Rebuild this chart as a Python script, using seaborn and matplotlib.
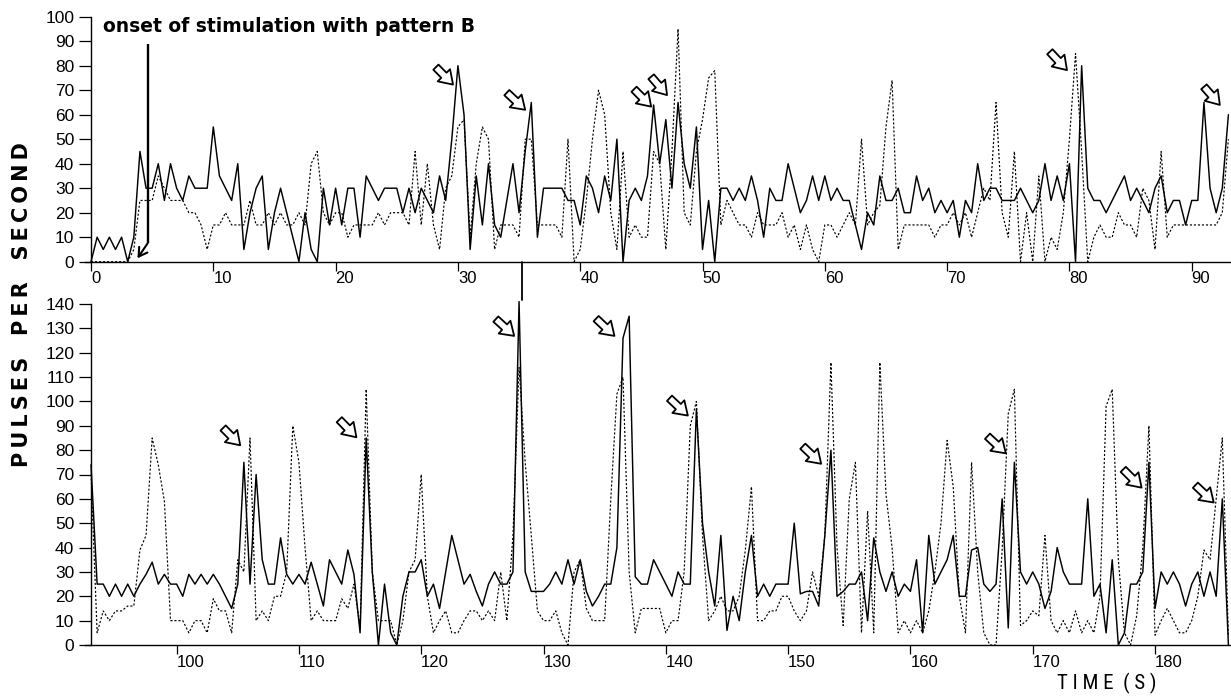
import numpy as np
import pandas as pd
import matplotlib
matplotlib.use("Agg")
import matplotlib.pyplot as plt
import seaborn as sns
from matplotlib import font_manager as fm

# ---------------------------------------------------------------- data
top_start = 0.0       # s, first sample of upper trace
bottom_start = 93.0   # s, first sample of lower trace
step = 0.5            # s between samples

# upper panel (0 - 93 s), pulses per second
top_solid = [
    0, 10, 5, 10, 5, 10, 0, 10, 45, 30,
    30, 40, 25, 40, 30, 25, 35, 30, 30, 30,
    55, 35, 30, 25, 40, 5, 20, 30, 35, 5,
    20, 30, 20, 10, 0, 20, 5, 0, 30, 15,
    30, 15, 30, 30, 10, 35, 30, 25, 30, 30,
    30, 20, 30, 20, 30, 25, 20, 35, 25, 50,
    80, 60, 5, 35, 15, 40, 15, 10, 25, 40,
    20, 45, 65, 10, 30, 30, 30, 30, 25, 25,
    15, 35, 30, 20, 35, 25, 50, 0, 25, 30,
    25, 35, 64, 40, 58, 30, 65, 40, 30, 55,
    5, 25, 0, 30, 30, 25, 30, 25, 35, 25,
    10, 30, 25, 25, 40, 30, 20, 25, 35, 25,
    35, 25, 30, 25, 25, 15, 5, 20, 15, 35,
    25, 25, 30, 20, 20, 35, 25, 30, 20, 25,
    20, 25, 10, 25, 20, 40, 25, 30, 30, 25,
    25, 25, 30, 25, 20, 25, 40, 25, 35, 25,
    40, 0, 80, 30, 25, 25, 20, 25, 30, 35,
    25, 30, 25, 20, 30, 35, 20, 25, 25, 15,
    25, 25, 65, 30, 20, 30, 60]
top_dotted = [
    0, 0, 0, 0, 0, 0, 0, 5, 25, 25,
    25, 35, 30, 25, 25, 25, 20, 20, 15, 5,
    15, 15, 20, 15, 15, 15, 25, 15, 15, 20,
    15, 20, 15, 15, 20, 15, 40, 45, 20, 15,
    20, 20, 10, 15, 15, 15, 15, 20, 15, 20,
    20, 20, 15, 45, 15, 40, 15, 5, 30, 35,
    55, 58, 10, 40, 55, 50, 5, 15, 15, 15,
    10, 50, 50, 15, 15, 15, 15, 10, 50, 0,
    5, 25, 50, 70, 60, 20, 5, 45, 10, 15,
    10, 10, 45, 40, 5, 45, 95, 20, 15, 45,
    58, 75, 78, 15, 25, 20, 15, 15, 10, 20,
    15, 15, 15, 20, 10, 15, 5, 15, 5, 0,
    15, 15, 10, 15, 20, 15, 50, 15, 20, 23,
    55, 74, 5, 15, 15, 15, 15, 15, 10, 15,
    15, 20, 15, 20, 10, 20, 30, 25, 65, 20,
    10, 45, 0, 20, 0, 35, 0, 10, 5, 20,
    50, 85, 45, 0, 10, 15, 10, 10, 20, 15,
    15, 10, 30, 25, 5, 45, 10, 15, 15, 15,
    15, 15, 15, 15, 15, 20, 50]

# lower panel (93 - 186 s)
bottom_solid = [
    74, 25, 25, 20, 25, 20, 25, 20, 25, 29,
    34, 25, 29, 25, 25, 20, 29, 25, 29, 25,
    29, 25, 20, 15, 25, 75, 25, 70, 35, 25,
    25, 44, 29, 25, 29, 25, 34, 25, 16, 35,
    30, 25, 39, 29, 5, 85, 30, 0, 25, 5,
    0, 20, 30, 30, 35, 20, 25, 15, 30, 45,
    35, 25, 29, 22, 16, 25, 30, 25, 25, 30,
    141, 30, 22, 22, 22, 25, 30, 25, 35, 25,
    35, 22, 16, 20, 25, 25, 40, 126, 135, 28,
    25, 25, 35, 30, 25, 20, 30, 25, 25, 97,
    50, 30, 16, 45, 6, 20, 10, 30, 45, 20,
    25, 20, 25, 25, 25, 50, 21, 22, 22, 16,
    45, 80, 20, 22, 25, 25, 30, 10, 44, 30,
    22, 30, 20, 25, 22, 35, 5, 45, 25, 30,
    35, 45, 20, 20, 39, 40, 25, 22, 25, 60,
    7, 75, 30, 25, 30, 25, 15, 22, 40, 30,
    25, 25, 25, 60, 20, 25, 5, 35, 0, 5,
    25, 25, 30, 75, 15, 30, 25, 30, 25, 16,
    25, 30, 20, 30, 20, 60, 0]
bottom_dotted = [
    70, 5, 14, 10, 14, 14, 16, 16, 39, 45,
    85, 74, 59, 10, 10, 10, 5, 10, 10, 5,
    19, 14, 14, 5, 35, 30, 85, 10, 14, 10,
    20, 20, 30, 90, 75, 40, 10, 14, 10, 10,
    10, 19, 15, 25, 7, 105, 30, 10, 10, 10,
    0, 10, 30, 35, 70, 20, 5, 10, 14, 5,
    5, 10, 14, 14, 10, 14, 10, 30, 10, 45,
    114, 75, 45, 14, 10, 10, 14, 5, 0, 30,
    35, 15, 10, 10, 10, 60, 103, 110, 30, 5,
    15, 15, 15, 15, 5, 10, 10, 30, 90, 100,
    45, 10, 14, 20, 14, 14, 20, 39, 65, 10,
    10, 14, 14, 20, 20, 14, 10, 14, 30, 20,
    45, 116, 40, 8, 60, 75, 5, 55, 5, 116,
    62, 40, 5, 10, 5, 10, 5, 14, 30, 50,
    84, 65, 20, 5, 75, 30, 5, 0, 0, 39,
    95, 105, 8, 10, 14, 12, 45, 10, 5, 10,
    5, 14, 5, 10, 5, 20, 98, 105, 35, 5,
    0, 12, 40, 90, 4, 10, 15, 10, 5, 5,
    10, 20, 39, 35, 60, 85, 4]

top_xticks = [0, 10, 20, 30, 40, 50, 60, 70, 80, 90]
bottom_xticks = [100, 110, 120, 130, 140, 150, 160, 170, 180]
top_yticks = [0, 10, 20, 30, 40, 50, 60, 70, 80, 90, 100]
bottom_yticks = [0, 10, 20, 30, 40, 50, 60, 70, 80, 90, 100, 110, 120, 130, 140]

# hollow arrows: (tail time, tail value, tip time, tip value)
top_arrows = [(28.2, 79.4, 29.6, 72.3), (34.0, 69.0, 35.5, 62.0),
              (44.4, 70.4, 45.8, 63.3), (45.8, 75.5, 47.1, 68.0),
              (78.4, 85.7, 79.8, 78.2), (91.0, 71.4, 92.3, 64.0)]
bottom_arrows = [(103.8, 89.1, 105.2, 82.0), (113.3, 92.5, 114.7, 85.3),
                 (126.1, 133.8, 127.6, 126.9), (134.3, 134.0, 135.8, 126.9),
                 (140.3, 101.3, 141.8, 94.2), (151.2, 81.6, 152.7, 74.4),
                 (166.3, 85.7, 167.8, 78.7), (177.4, 72.1, 178.9, 64.6),
                 (183.3, 65.6, 184.8, 58.5)]
onset_time, onset_top, onset_bottom = 4.63, 88.7, 7.5
onset_tip = (3.8, 1.4)
marker_time, marker_depth = 35.2, -15.5

onset_label = "onset of stimulation with pattern B"
ylabel_words = ["PULSES", "PER", "SECOND"]
xlabel_words = ["TIME", "(S)"]

# ---------------------------------------------------------------- style
sns.set_theme(style="white")
avail = {f.name for f in fm.fontManager.ttflist}


def pick(*cands):
    for c in cands:
        if c in avail:
            return c
    return "DejaVu Sans"


TICKF = pick("Liberation Sans", "DejaVu Sans")
NARROW = pick("Liberation Sans Narrow", "DejaVu Sans Condensed", "Roboto Condensed")
plt.rcParams["font.family"] = ["DejaVu Sans"]

W, H = 1231, 696
PX = 12.23  # pixels per second
fig = plt.figure(figsize=(W / 100, H / 100), dpi=100)
ax1 = fig.add_axes([84.9 / W, (H - 261.7) / H, 93.7 * PX / W, 245.0 / H])
ax2 = fig.add_axes([84.9 / W, (H - 645.0) / H, 93.7 * PX / W, 341.0 / H])


def frame(start, solid, dotted):
    t = start + step * np.arange(len(solid))
    return pd.DataFrame({"t": t, "solid": solid, "dotted": dotted})


panels = [
    (ax1, frame(top_start, top_solid, top_dotted), top_start, (-0.5, 93.2), (0, 100),
     top_xticks, top_yticks, top_arrows),
    (ax2, frame(bottom_start, bottom_solid, bottom_dotted), bottom_start, (92.5, 186.2),
     (0, 140), bottom_xticks, bottom_yticks, bottom_arrows),
]

arrow_kw = dict(arrowstyle="simple,head_length=0.75,head_width=1.0,tail_width=0.42",
                fc="white", ec="black", lw=1.3, mutation_scale=12.5,
                shrinkA=0, shrinkB=0)

for ax, df, x0, xlim, ylim, xt, yt, arrows in panels:
    sns.lineplot(data=df, x="t", y="dotted", ax=ax, color="black", lw=0.85,
                 linestyle=(0, (1.8, 1.6)), estimator=None, sort=False, clip_on=False)
    sns.lineplot(data=df, x="t", y="solid", ax=ax, color="black", lw=1.05,
                 estimator=None, sort=False, clip_on=False)
    ax.set_xlim(*xlim)
    ax.set_ylim(*ylim)
    ax.patch.set_alpha(0)
    for s in ("top", "right"):
        ax.spines[s].set_visible(False)
    ax.spines["left"].set_position(("data", x0))
    ax.spines["left"].set_bounds(*ylim)
    for s in ("left", "bottom"):
        ax.spines[s].set_color("black")
        ax.spines[s].set_linewidth(1.0)
    ax.set_xticks(xt)
    ax.set_yticks(yt)
    ax.tick_params(axis="x", bottom=True, direction="out", length=6.5, width=0.9,
                   pad=0.5, labelsize=12, colors="black")
    ax.tick_params(axis="y", left=True, direction="out", length=9, width=0.9,
                   pad=3, labelsize=12.5, colors="black")
    for lab in ax.get_xticklabels() + ax.get_yticklabels():
        lab.set_fontfamily(TICKF)
    for lab in ax.get_xticklabels():
        lab.set_horizontalalignment("left")
    ax.set_xlabel("")
    ax.set_ylabel("")
    for (xa, ya, xb, yb) in arrows:
        ax.annotate("", xy=(xb, yb), xytext=(xa, ya), arrowprops=arrow_kw,
                    annotation_clip=False)

# onset marker
ax1.plot([onset_time, onset_time], [onset_top, onset_bottom], color="black",
         lw=1.7, solid_capstyle="butt")
ax1.annotate("", xy=onset_tip, xytext=(onset_time, onset_bottom),
             arrowprops=dict(arrowstyle="->,head_length=0.5,head_width=0.3",
                             color="black", lw=1.5, shrinkA=0, shrinkB=0))
ax1.plot([marker_time, marker_time], [0, marker_depth], color="black", lw=1.3,
         clip_on=False)

# texts
fig.text(103 / W, 1 - 27 / H, onset_label, fontsize=13.5, fontweight="bold",
         ha="left", va="center", color="black")

thin = "\u2009"
ylab = "   ".join(thin.join(w) for w in ylabel_words)
fig.text(22 / W, 1 - 305 / H, ylab, rotation=90, fontsize=15,
         fontweight="bold", ha="center", va="center", color="black")
xlab = "  ".join(" ".join(w) for w in xlabel_words)
fig.text(1107 / W, 1 - 694.5 / H, xlab, fontsize=15,
         family=[NARROW, "DejaVu Sans"], ha="center", va="bottom", color="black")

fig.savefig("out.png", dpi=100, facecolor="white")
